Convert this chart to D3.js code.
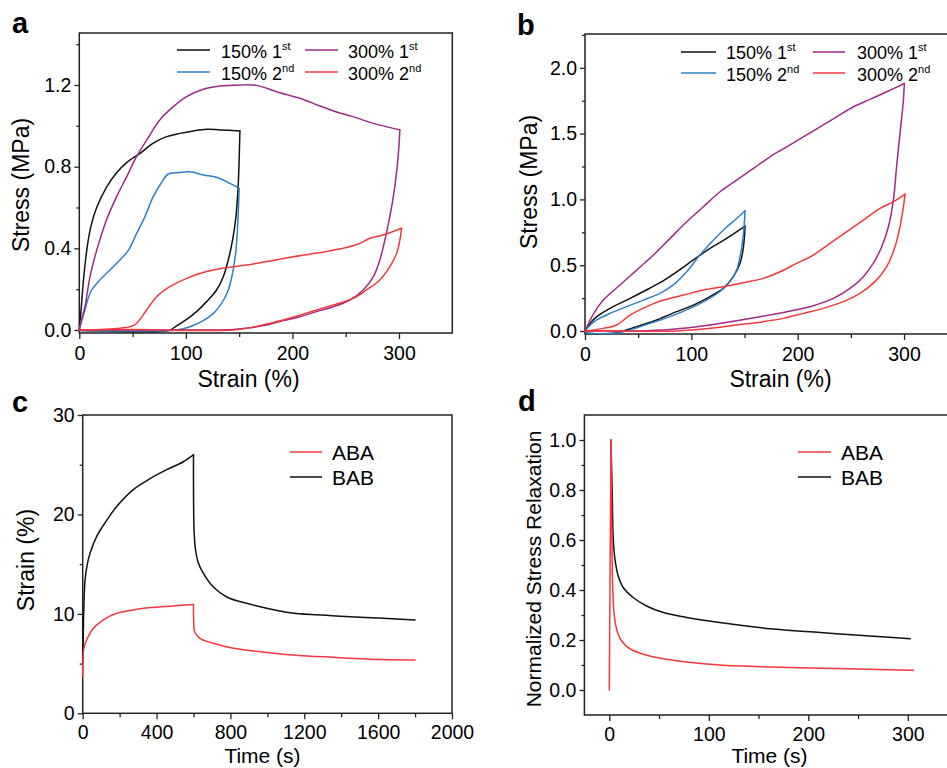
<!DOCTYPE html>
<html><head><meta charset="utf-8">
<script src="https://cdn.jsdelivr.net/npm/d3@7/dist/d3.min.js"></script>
<style>
body{margin:0;background:#fff}
svg{display:block}
text{font-family:"Liberation Sans",Arial,Helvetica,sans-serif;fill:#000}
</style>
</head><body>
<svg id="chart" width="947" height="768"></svg>
<script>
// ---------- DATA ----------
// Panel a : cyclic tensile, stress (MPa) vs strain (%)
const a_150_1st = [[0,0],[2,0.12],[4,0.25],[7.5,0.41],[11,0.51],[16.3,0.60],[25.6,0.70],[35,0.77],[44.4,0.82],[57,0.865],[69.4,0.915],[82,0.947],[94.4,0.963],[107,0.975],[119.4,0.983],[132,0.98],[150.7,0.975],
  [149.8,0.80],[149,0.70],[147,0.555],[143.8,0.44],[139.8,0.343],[135,0.26],[128.8,0.196],[119.4,0.139],[110,0.09],[100.7,0.052],[91.3,0.02],[83.5,-0.003],[60,-0.008],[30,-0.006],[0,-0.003]];
const a_150_2nd = [[0,0],[2,0.04],[5.3,0.098],[8,0.15],[11.6,0.196],[19.4,0.245],[28.8,0.294],[38.1,0.343],[46,0.39],[53.8,0.473],[61.6,0.555],[69.4,0.653],[75.7,0.71],[83.5,0.764],[91.3,0.77],[103.8,0.775],[116.3,0.759],[128.8,0.748],[141.3,0.718],[150,0.694],
  [149.5,0.62],[149,0.555],[147,0.39],[143.8,0.278],[139.8,0.196],[133.5,0.13],[125.7,0.08],[116.3,0.046],[103.8,0.016],[91.3,0.0],[60,-0.005],[30,-0.005],[0,-0.002]];
const a_300_1st = [[0,0],[2,0.05],[5.3,0.114],[10,0.26],[16.3,0.39],[25.6,0.54],[35,0.653],[44.4,0.75],[53.8,0.85],[63.2,0.93],[75.7,1.03],[88.2,1.094],[100.7,1.143],[116.3,1.179],[132,1.195],[150.7,1.2],[166.4,1.198],[185,1.167],[207,1.135],[225.8,1.097],[240,1.07],[257,1.045],[275.8,1.012],[300.8,0.98],
  [299.2,0.85],[296,0.70],[291.4,0.555],[286.7,0.44],[282,0.343],[275.8,0.26],[266.4,0.196],[254,0.147],[238.3,0.114],[222.6,0.09],[207,0.065],[191.4,0.046],[175.7,0.024],[160,0.011],[144.5,0.003],[120,0],[60,0],[0,0]];
const a_300_2nd = [[0,0],[20,0.003],[38,0.008],[50,0.02],[53.8,0.033],[63.2,0.098],[72.6,0.163],[85,0.212],[100.7,0.253],[119.4,0.286],[138,0.305],[157,0.318],[175.7,0.335],[200.8,0.359],[225.8,0.379],[247.6,0.40],[263.3,0.424],[272.7,0.449],[285,0.465],[302.4,0.498],
  [300.8,0.44],[297.7,0.375],[291.4,0.31],[282,0.245],[269.5,0.196],[257,0.155],[238.3,0.122],[222.6,0.098],[207,0.073],[191.4,0.049],[175.7,0.029],[157,0.008],[144.5,0],[100,-0.002],[50,0.002],[0,0]];

// Panel b
const b_150_1st = [[0,0],[5,0.06],[11,0.109],[23.5,0.172],[39.2,0.235],[54.9,0.30],[70.5,0.367],[86.2,0.45],[101.9,0.54],[117.6,0.628],[133.2,0.704],[150.5,0.797],
  [149,0.64],[145.8,0.514],[139.5,0.413],[130,0.324],[117.6,0.261],[101.9,0.197],[86.2,0.147],[67.4,0.084],[48.6,0.033],[36,0],[26.6,-0.018],[10,-0.02],[0,-0.015]];
const b_150_2nd = [[0,0],[5,0.045],[11,0.084],[23.5,0.134],[39.2,0.185],[54.9,0.235],[70.5,0.286],[83,0.35],[95.6,0.45],[108,0.577],[120.7,0.69],[133.2,0.79],[142.6,0.855],[150.5,0.914],
  [149,0.742],[146.4,0.59],[142.6,0.463],[136.4,0.375],[127,0.30],[114.4,0.235],[98.7,0.172],[80,0.109],[61,0.058],[42.3,0.008],[29.8,-0.018],[10,-0.02],[0,-0.015]];
const b_300_1st = [[0,0],[8,0.13],[17.2,0.235],[32.9,0.35],[48.6,0.463],[64.3,0.577],[80,0.704],[95.6,0.83],[111.3,0.944],[127,1.058],[142.6,1.147],[158.3,1.235],[174,1.324],[189.7,1.40],[205.3,1.476],[221,1.552],[236.7,1.628],[252.4,1.704],[268,1.76],[283.7,1.818],[300.3,1.881],
  [299.4,1.754],[296.2,1.50],[293,1.248],[290,0.995],[285.3,0.792],[279,0.64],[271,0.514],[261.8,0.413],[249.2,0.324],[233.5,0.248],[211.6,0.185],[189.7,0.147],[164.6,0.109],[142.6,0.078],[117.6,0.046],[92.5,0.02],[73.7,0.008],[54.9,0],[20,0],[0,0]];
const b_300_2nd = [[0,0],[17.2,0.02],[29.8,0.046],[42.3,0.12],[58,0.185],[73.7,0.235],[92.5,0.273],[111.3,0.311],[130,0.337],[148.9,0.367],[167.7,0.40],[183.4,0.45],[199,0.514],[214.7,0.577],[230.4,0.666],[246,0.754],[261.8,0.843],[277.4,0.932],[290,0.982],[301,1.04],
  [299.4,0.944],[296.2,0.792],[291.5,0.64],[283.7,0.489],[272.7,0.375],[258.6,0.286],[243,0.223],[224,0.172],[205.3,0.134],[186.5,0.096],[167.7,0.071],[142.6,0.046],[117.6,0.02],[86.2,0],[40,0],[0,0]];

// Panel c : creep-recovery, strain (%) vs time (s)
const c_ABA = [[0,3.7],[3,6],[10,6.8],[21.7,7.4],[57.8,8.55],[112,9.4],[184,10.06],[274,10.4],[365,10.63],[491,10.8],[600,10.95],[602,8.8],[606,8.2],[635,7.54],[707,7.04],[816,6.54],[960,6.2],[1141,5.87],[1357,5.63],[1538,5.46],[1800,5.36]];
const c_BAB = [[0,5.0],[3,8],[6,10.5],[12.6,13.4],[25,15],[39.7,16.1],[75.8,17.8],[130,19.4],[184,20.8],[274,22.5],[365,23.6],[455,24.5],[545,25.3],[600,26.0],[603,18.5],[610,16.6],[625,15.2],[653,14.1],[707.6,12.7],[780,11.7],[888,11.06],[996,10.56],[1123,10.12],[1267,9.9],[1448,9.72],[1628,9.55],[1800,9.39]];

// Panel d : normalized stress relaxation vs time (s)
const d_ABA = [[0,0],[1.7,1.0],[2.7,0.576],[3.4,0.416],[4.7,0.31],[7.4,0.243],[12.4,0.196],[20.8,0.165],[34.2,0.143],[54.3,0.125],[77.8,0.112],[111,0.10],[161.6,0.092],[212,0.087],[262,0.083],[305.7,0.079]];
const d_BAB = [[1.7,1.0],[3,0.776],[4,0.603],[5.7,0.523],[9,0.456],[14,0.41],[24,0.37],[37.5,0.336],[54.3,0.31],[77.8,0.29],[111,0.27],[161.6,0.245],[212,0.23],[262,0.216],[302.4,0.205]];

// tick values
const a_xTicks = [0,100,200,300], a_xMinor = [50,150,250];
const a_yTicks = [0,0.4,0.8,1.2],  a_yMinor = [0.2,0.6,1.0,1.4];
const b_xTicks = [0,100,200,300], b_xMinor = [50,150,250];
const b_yTicks = [0,0.5,1.0,1.5,2.0], b_yMinor = [0.25,0.75,1.25,1.75,2.25];
const c_xTicks = [0,400,800,1200,1600,2000], c_xMinor = [200,600,1000,1400,1800];
const c_yTicks = [0,10,20,30], c_yMinor = [5,15,25];
const d_xTicks = [0,100,200,300], d_xMinor = [50,150,250];
const d_yTicks = [0,0.2,0.4,0.6,0.8,1.0], d_yMinor = [0.1,0.3,0.5,0.7,0.9];

const labelsAB = ["150% 1", "150% 2", "300% 1", "300% 2"];
const supAB = ["st","nd","st","nd"];
const labelsCD = ["ABA","BAB"];

// colours
const BLACK = "#111111", BLUE = "#2f80c4", PURPLE = "#9e2a86", RED = "#f2383d";

// ---------- DRAWING ----------
const svg = d3.select("#chart");

// split a series at a corner point (shared by both pieces) so the smoothing does not overshoot
function splitAt(data, mode) {
  let idx;
  if (mode === "maxX") idx = d3.maxIndex(data, d => d[0]);
  else idx = d3.maxIndex(data, d => d[1]);
  const out = [];
  if (idx > 0) out.push(data.slice(0, idx + 1));
  if (idx < data.length - 1) out.push(data.slice(idx));
  return out;
}

function panel(o) {
  const g = svg.append("g");
  const x = d3.scaleLinear().domain(o.xd).range([o.L, o.R]);
  const y = d3.scaleLinear().domain(o.yd).range([o.B, o.T]);

  const xa = g.append("g").attr("transform", `translate(0,${o.B})`)
    .call(d3.axisBottom(x).tickValues(o.xt).tickSize(6).tickPadding(o.xpad||7).tickSizeOuter(0).tickFormat(o.xf || d3.format("d")));
  const xm = g.append("g").attr("transform", `translate(0,${o.B})`)
    .call(d3.axisBottom(x).tickValues(o.xm).tickSize(4).tickSizeOuter(0).tickFormat(""));
  const ya = g.append("g").attr("transform", `translate(${o.L},0)`)
    .call(d3.axisLeft(y).tickValues(o.yt).tickSize(5).tickPadding(3).tickSizeOuter(0).tickFormat(o.yf));
  const ym = g.append("g").attr("transform", `translate(${o.L},0)`)
    .call(d3.axisLeft(y).tickValues(o.ym).tickSize(3).tickSizeOuter(0).tickFormat(""));
  [xa,xm,ya,ym].forEach(a => {
    a.select(".domain").remove();
    a.selectAll("line").attr("stroke","#222").attr("stroke-width",1.3);
    a.selectAll("text").style("font-size","19.5px").style("font-family",'"Liberation Sans",Arial,sans-serif').attr("fill","#000");
  });

  g.append("rect").attr("x",o.L).attr("y",o.T).attr("width",o.R-o.L).attr("height",o.B-o.T)
    .attr("fill","none").attr("stroke","#222").attr("stroke-width",1.5);

  const line = d3.line().x(d=>x(d[0])).y(d=>y(d[1])).curve(d3.curveCatmullRom.alpha(0.5));
  o.series.forEach(s => {
    splitAt(s.data, o.split).forEach(part => {
      g.append("path").datum(part).attr("d", line).attr("fill","none")
        .attr("stroke", s.color).attr("stroke-width",1.5).attr("stroke-linejoin","round").attr("stroke-linecap","round");
    });
  });

  // axis titles
  g.append("text").attr("x",o.xtx).attr("y",o.xty).attr("text-anchor","middle")
    .style("font-size", (o.xtSize||23)+"px").text(o.xTitle);
  g.append("text").attr("transform",`translate(${o.ytx},${o.yty}) rotate(-90)`).attr("text-anchor","middle")
    .style("font-size", (o.ytSize||23)+"px").text(o.yTitle);
  // panel letter
  g.append("text").attr("x",o.lx).attr("y",o.ly).style("font-size","29px").style("font-weight","bold").text(o.letter);

  // legend
  o.legend.forEach(l => {
    g.append("line").attr("x1",l.x1).attr("x2",l.x2).attr("y1",l.y).attr("y2",l.y)
      .attr("stroke",l.color).attr("stroke-width",1.5);
    const t = g.append("text").attr("x",l.tx).attr("y",l.ty).style("font-size",l.fs+"px");
    t.append("tspan").text(l.text);
    if (l.sup) t.append("tspan").attr("dy",-8).style("font-size","11px").text(l.sup);
  });
}

const f1 = d3.format(".1f");

panel({
  xd:[0,350], yd:[-0.0147,1.4545], L:79.3, R:452.3, T:33, B:333, split:"maxX",
  xt:a_xTicks, xm:a_xMinor, yt:a_yTicks, ym:a_yMinor, yf:f1,
  series:[{data:a_150_1st,color:BLACK},{data:a_150_2nd,color:BLUE},{data:a_300_1st,color:PURPLE},{data:a_300_2nd,color:RED}],
  xTitle:"Strain (%)", xtx:248.5, xty:387, yTitle:"Stress (MPa)", ytx:29, yty:185,
  letter:"a", lx:12, ly:33,
  legend:[
    {x1:177,x2:210,y:50,tx:221,ty:58,fs:18,color:BLACK,text:labelsAB[0],sup:supAB[0]},
    {x1:177,x2:210,y:72,tx:221,ty:80,fs:18,color:BLUE,text:labelsAB[1],sup:supAB[1]},
    {x1:305,x2:338,y:50,tx:348,ty:58,fs:18,color:PURPLE,text:labelsAB[2],sup:supAB[2]},
    {x1:305,x2:338,y:72,tx:348,ty:80,fs:18,color:RED,text:labelsAB[3],sup:supAB[3]}
  ]
});

panel({
  xd:[0,350], yd:[-0.0228,2.257], L:585, R:957.2, T:34, B:334, split:"maxX",
  xt:b_xTicks, xm:b_xMinor, yt:b_yTicks, ym:b_yMinor, yf:f1,
  series:[{data:b_150_1st,color:BLACK},{data:b_150_2nd,color:BLUE},{data:b_300_1st,color:PURPLE},{data:b_300_2nd,color:RED}],
  xTitle:"Strain (%)", xtx:780.5, xty:387, yTitle:"Stress (MPa)", ytx:537, yty:182,
  letter:"b", lx:517, ly:35,
  legend:[
    {x1:681,x2:716,y:52,tx:726,ty:59,fs:18,color:BLACK,text:labelsAB[0],sup:supAB[0]},
    {x1:681,x2:716,y:73,tx:726,ty:81,fs:18,color:BLUE,text:labelsAB[1],sup:supAB[1]},
    {x1:813,x2:845,y:52,tx:857,ty:59,fs:18,color:PURPLE,text:labelsAB[2],sup:supAB[2]},
    {x1:813,x2:845,y:73,tx:857,ty:81,fs:18,color:RED,text:labelsAB[3],sup:supAB[3]}
  ]
});

panel({
  xd:[0,2000], yd:[0,30], L:82.7, R:452, T:415, B:713.3, split:"maxY", xpad:6,
  xt:c_xTicks, xm:c_xMinor, yt:c_yTicks, ym:c_yMinor, yf:d3.format("d"),
  series:[{data:c_BAB,color:BLACK},{data:c_ABA,color:RED}],
  xTitle:"Time (s)", xtx:262.5, xty:763, xtSize:21, yTitle:"Strain (%)", ytx:34, yty:560,
  letter:"c", lx:12, ly:412,
  legend:[
    {x1:290,x2:322,y:452,tx:332,ty:460,fs:21,color:RED,text:labelsCD[0]},
    {x1:290,x2:322,y:477,tx:332,ty:485,fs:21,color:BLACK,text:labelsCD[1]}
  ]
});

panel({
  xd:[-25,350], yd:[-0.1,1.1], L:584.4, R:957.6, T:415, B:715, split:"maxY", xpad:6,
  xt:d_xTicks, xm:d_xMinor, yt:d_yTicks, ym:d_yMinor, yf:f1,
  series:[{data:d_BAB,color:BLACK},{data:d_ABA,color:RED}],
  xTitle:"Time (s)", xtx:769.5, xty:763, xtSize:21, yTitle:"Normalized Stress Relaxation", ytx:541, yty:569, ytSize:21,
  letter:"d", lx:518, ly:411,
  legend:[
    {x1:798,x2:831,y:452,tx:841,ty:460,fs:21,color:RED,text:labelsCD[0]},
    {x1:798,x2:831,y:477,tx:841,ty:485,fs:21,color:BLACK,text:labelsCD[1]}
  ]
});
</script>
</body></html>
